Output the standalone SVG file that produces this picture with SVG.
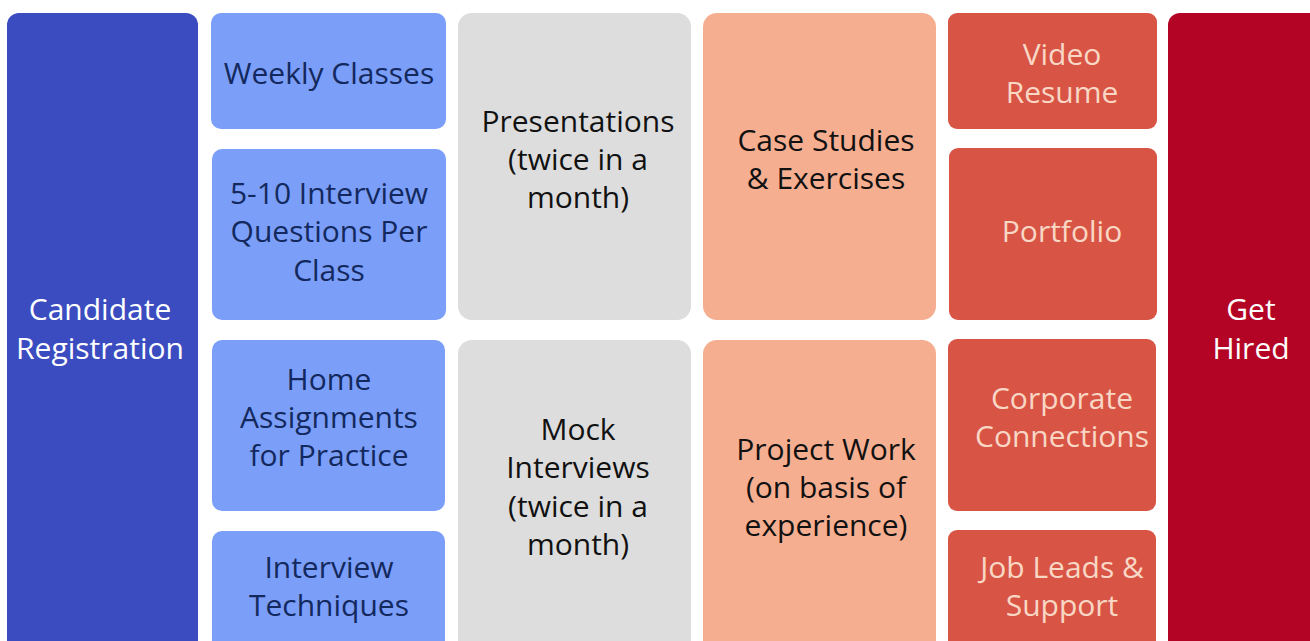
<svg xmlns="http://www.w3.org/2000/svg" width="1310" height="641" viewBox="0 0 1310 641">
<style>
text{font-family:"Open Sans","Noto Sans",sans-serif;font-size:30px;text-anchor:middle}
.c1{fill:#3B4CC0}.c2{fill:#7B9EF8}.c3{fill:#DDDDDD}.c4{fill:#F6AE90}.c5{fill:#D85546}.c6{fill:#B40426}
.t1{fill:#FFFFFF}.t2{fill:#13295E}.t3{fill:#111111}.t5{fill:#F9D7C5}
</style>
<rect width="1310" height="641" fill="#FFFFFF"/>
<g id="candidate-registration"><rect class="c1" x="7" y="13" width="191" height="650" rx="12"/><text class="t1" x="100" y="320">Candidate</text><text class="t1" x="100" y="359">Registration</text></g>
<g id="weekly-classes"><rect class="c2" x="211" y="13" width="235" height="116" rx="10"/><text class="t2" x="329" y="84">Weekly Classes</text></g>
<g id="interview-questions"><rect class="c2" x="212" y="149" width="234" height="171" rx="10"/><text class="t2" x="329" y="204">5-10 Interview</text><text class="t2" x="329" y="242">Questions Per</text><text class="t2" x="329" y="281">Class</text></g>
<g id="home-assignments"><rect class="c2" x="212" y="340" width="233" height="171" rx="10"/><text class="t2" x="329" y="390">Home</text><text class="t2" x="329" y="428">Assignments</text><text class="t2" x="329" y="466">for Practice</text></g>
<g id="interview-techniques"><rect class="c2" x="212" y="531" width="233" height="130" rx="10"/><text class="t2" x="329" y="578">Interview</text><text class="t2" x="329" y="616">Techniques</text></g>
<g id="presentations"><rect class="c3" x="458" y="13" width="233" height="307" rx="14"/><text class="t3" x="578" y="132">Presentations</text><text class="t3" x="578" y="170">(twice in a</text><text class="t3" x="578" y="208">month)</text></g>
<g id="mock-interviews"><rect class="c3" x="458" y="340" width="233" height="320" rx="14"/><text class="t3" x="578" y="440">Mock</text><text class="t3" x="578" y="478">Interviews</text><text class="t3" x="578" y="517">(twice in a</text><text class="t3" x="578" y="555">month)</text></g>
<g id="case-studies"><rect class="c4" x="703" y="13" width="233" height="307" rx="14"/><text class="t3" x="826" y="151">Case Studies</text><text class="t3" x="826" y="189">&amp; Exercises</text></g>
<g id="project-work"><rect class="c4" x="703" y="340" width="233" height="320" rx="14"/><text class="t3" x="826" y="460">Project Work</text><text class="t3" x="826" y="498">(on basis of</text><text class="t3" x="826" y="536">experience)</text></g>
<g id="video-resume"><rect class="c5" x="948" y="13" width="209" height="116" rx="9"/><text class="t5" x="1062" y="65">Video</text><text class="t5" x="1062" y="103">Resume</text></g>
<g id="portfolio"><rect class="c5" x="949" y="148" width="208" height="172" rx="9"/><text class="t5" x="1062" y="242">Portfolio</text></g>
<g id="corporate-connections"><rect class="c5" x="948" y="339" width="208" height="172" rx="9"/><text class="t5" x="1062" y="409">Corporate</text><text class="t5" x="1062" y="447">Connections</text></g>
<g id="job-leads"><rect class="c5" x="948" y="530" width="208" height="130" rx="9"/><text class="t5" x="1062" y="578">Job Leads &amp;</text><text class="t5" x="1062" y="616">Support</text></g>
<g id="get-hired"><rect class="c6" x="1168" y="13" width="160" height="650" rx="12"/><text class="t1" x="1251" y="320">Get</text><text class="t1" x="1251" y="359">Hired</text></g>
<g id="connectors"></g>
</svg>
